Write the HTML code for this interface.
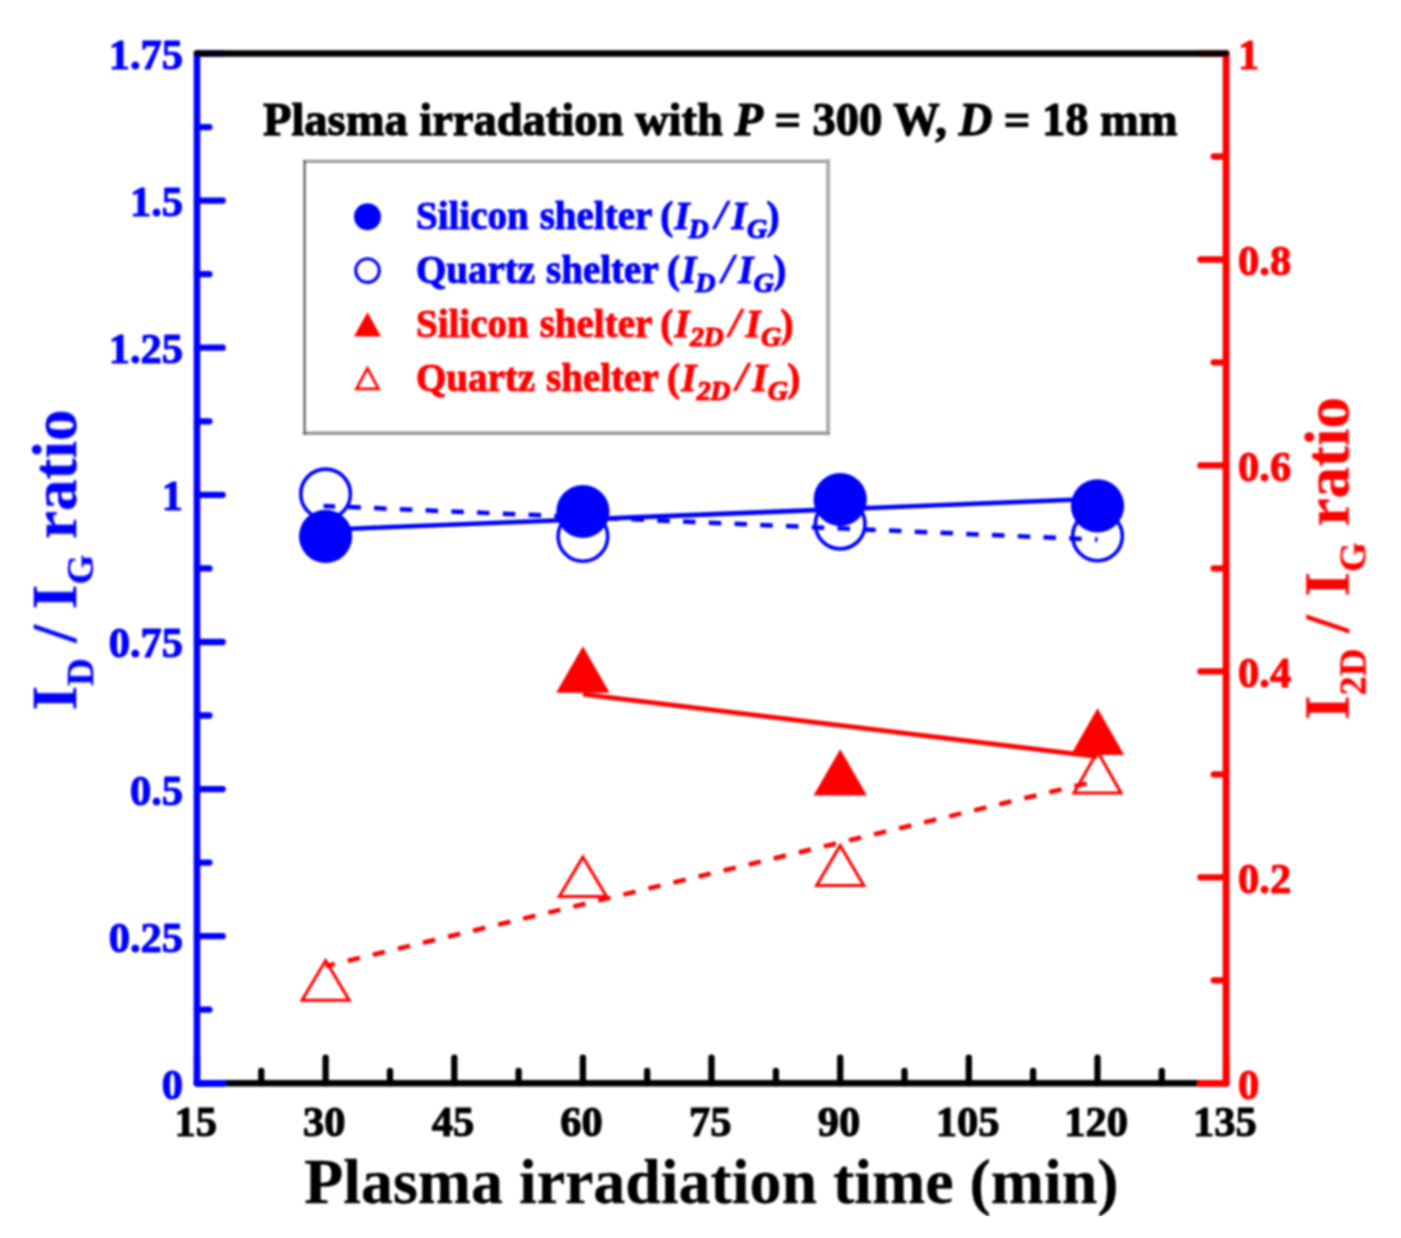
<!DOCTYPE html>
<html><head><meta charset="utf-8"><title>chart</title>
<style>
html,body{margin:0;padding:0;background:#fff;}
body{width:1401px;height:1238px;overflow:hidden;}
svg{display:block;}
text{font-family:"Liberation Serif",serif;font-weight:bold;stroke-width:1.1px;stroke-linejoin:round;}
.lg text{stroke-width:1.0px;}
.ttl{stroke-width:1.25px;}
.b text,text.b{stroke:#0000ff;}
.r text,text.r{stroke:#ff0000;}
.k text,text.k{stroke:#000;}
.i{font-style:italic;}
svg text.big{stroke-width:0.3px;}
</style></head><body>
<svg width="1401" height="1238" viewBox="0 0 1401 1238">
<rect x="0" y="0" width="1401" height="1238" fill="#fff"/>
<g id="plot" filter="url(#bl)">
<line x1="197.0" y1="1083.3" x2="1226.1" y2="1083.3" stroke="#000000" stroke-width="6.6" stroke-linecap="round"/>
<line x1="197.0" y1="1083.3" x2="197.0" y2="1057.6" stroke="#000000" stroke-width="6.3" stroke-linecap="round"/>
<line x1="261.3" y1="1083.3" x2="261.3" y2="1070.9" stroke="#000000" stroke-width="6.3" stroke-linecap="round"/>
<line x1="325.6" y1="1083.3" x2="325.6" y2="1057.6" stroke="#000000" stroke-width="6.3" stroke-linecap="round"/>
<line x1="390.0" y1="1083.3" x2="390.0" y2="1070.9" stroke="#000000" stroke-width="6.3" stroke-linecap="round"/>
<line x1="454.3" y1="1083.3" x2="454.3" y2="1057.6" stroke="#000000" stroke-width="6.3" stroke-linecap="round"/>
<line x1="518.6" y1="1083.3" x2="518.6" y2="1070.9" stroke="#000000" stroke-width="6.3" stroke-linecap="round"/>
<line x1="582.9" y1="1083.3" x2="582.9" y2="1057.6" stroke="#000000" stroke-width="6.3" stroke-linecap="round"/>
<line x1="647.2" y1="1083.3" x2="647.2" y2="1070.9" stroke="#000000" stroke-width="6.3" stroke-linecap="round"/>
<line x1="711.5" y1="1083.3" x2="711.5" y2="1057.6" stroke="#000000" stroke-width="6.3" stroke-linecap="round"/>
<line x1="775.9" y1="1083.3" x2="775.9" y2="1070.9" stroke="#000000" stroke-width="6.3" stroke-linecap="round"/>
<line x1="840.2" y1="1083.3" x2="840.2" y2="1057.6" stroke="#000000" stroke-width="6.3" stroke-linecap="round"/>
<line x1="904.5" y1="1083.3" x2="904.5" y2="1070.9" stroke="#000000" stroke-width="6.3" stroke-linecap="round"/>
<line x1="968.8" y1="1083.3" x2="968.8" y2="1057.6" stroke="#000000" stroke-width="6.3" stroke-linecap="round"/>
<line x1="1033.1" y1="1083.3" x2="1033.1" y2="1070.9" stroke="#000000" stroke-width="6.3" stroke-linecap="round"/>
<line x1="1097.5" y1="1083.3" x2="1097.5" y2="1057.6" stroke="#000000" stroke-width="6.3" stroke-linecap="round"/>
<line x1="1161.8" y1="1083.3" x2="1161.8" y2="1070.9" stroke="#000000" stroke-width="6.3" stroke-linecap="round"/>
<line x1="1226.1" y1="1083.3" x2="1226.1" y2="1057.6" stroke="#000000" stroke-width="6.3" stroke-linecap="round"/>
<line x1="197.0" y1="53.5" x2="197.0" y2="1083.3" stroke="#0000ff" stroke-width="6.6" stroke-linecap="round"/>
<line x1="197.0" y1="1083.3" x2="222.7" y2="1083.3" stroke="#0000ff" stroke-width="6.8" stroke-linecap="round"/>
<line x1="197.0" y1="1009.7" x2="209.4" y2="1009.7" stroke="#0000ff" stroke-width="6.3" stroke-linecap="round"/>
<line x1="197.0" y1="936.2" x2="222.7" y2="936.2" stroke="#0000ff" stroke-width="6.3" stroke-linecap="round"/>
<line x1="197.0" y1="862.6" x2="209.4" y2="862.6" stroke="#0000ff" stroke-width="6.3" stroke-linecap="round"/>
<line x1="197.0" y1="789.1" x2="222.7" y2="789.1" stroke="#0000ff" stroke-width="6.3" stroke-linecap="round"/>
<line x1="197.0" y1="715.5" x2="209.4" y2="715.5" stroke="#0000ff" stroke-width="6.3" stroke-linecap="round"/>
<line x1="197.0" y1="642.0" x2="222.7" y2="642.0" stroke="#0000ff" stroke-width="6.3" stroke-linecap="round"/>
<line x1="197.0" y1="568.4" x2="209.4" y2="568.4" stroke="#0000ff" stroke-width="6.3" stroke-linecap="round"/>
<line x1="197.0" y1="494.8" x2="222.7" y2="494.8" stroke="#0000ff" stroke-width="6.3" stroke-linecap="round"/>
<line x1="197.0" y1="421.3" x2="209.4" y2="421.3" stroke="#0000ff" stroke-width="6.3" stroke-linecap="round"/>
<line x1="197.0" y1="347.7" x2="222.7" y2="347.7" stroke="#0000ff" stroke-width="6.3" stroke-linecap="round"/>
<line x1="197.0" y1="274.2" x2="209.4" y2="274.2" stroke="#0000ff" stroke-width="6.3" stroke-linecap="round"/>
<line x1="197.0" y1="200.6" x2="222.7" y2="200.6" stroke="#0000ff" stroke-width="6.3" stroke-linecap="round"/>
<line x1="197.0" y1="127.1" x2="209.4" y2="127.1" stroke="#0000ff" stroke-width="6.3" stroke-linecap="round"/>
<line x1="197.0" y1="53.5" x2="222.7" y2="53.5" stroke="#0000ff" stroke-width="6.3" stroke-linecap="round"/>
<line x1="1226.1" y1="53.5" x2="1226.1" y2="1083.3" stroke="#ff0000" stroke-width="6.9" stroke-linecap="round"/>
<line x1="1226.1" y1="1083.3" x2="1200.4" y2="1083.3" stroke="#ff0000" stroke-width="6.8" stroke-linecap="round"/>
<line x1="1226.1" y1="980.3" x2="1213.7" y2="980.3" stroke="#ff0000" stroke-width="6.3" stroke-linecap="round"/>
<line x1="1226.1" y1="877.3" x2="1200.4" y2="877.3" stroke="#ff0000" stroke-width="6.3" stroke-linecap="round"/>
<line x1="1226.1" y1="774.4" x2="1213.7" y2="774.4" stroke="#ff0000" stroke-width="6.3" stroke-linecap="round"/>
<line x1="1226.1" y1="671.4" x2="1200.4" y2="671.4" stroke="#ff0000" stroke-width="6.3" stroke-linecap="round"/>
<line x1="1226.1" y1="568.4" x2="1213.7" y2="568.4" stroke="#ff0000" stroke-width="6.3" stroke-linecap="round"/>
<line x1="1226.1" y1="465.4" x2="1200.4" y2="465.4" stroke="#ff0000" stroke-width="6.3" stroke-linecap="round"/>
<line x1="1226.1" y1="362.4" x2="1213.7" y2="362.4" stroke="#ff0000" stroke-width="6.3" stroke-linecap="round"/>
<line x1="1226.1" y1="259.5" x2="1200.4" y2="259.5" stroke="#ff0000" stroke-width="6.3" stroke-linecap="round"/>
<line x1="1226.1" y1="156.5" x2="1213.7" y2="156.5" stroke="#ff0000" stroke-width="6.3" stroke-linecap="round"/>
<line x1="1226.1" y1="53.5" x2="1200.4" y2="53.5" stroke="#ff0000" stroke-width="6.3" stroke-linecap="round"/>
<line x1="197.0" y1="53.5" x2="1226.1" y2="53.5" stroke="#000000" stroke-width="6.6" stroke-linecap="round"/>
<text class="b" x="183" y="68.9" font-size="42.5" fill="#0000ff" text-anchor="end">1.75</text>
<text class="b" x="183" y="216.0" font-size="42.5" fill="#0000ff" text-anchor="end">1.5</text>
<text class="b" x="183" y="363.1" font-size="42.5" fill="#0000ff" text-anchor="end">1.25</text>
<text class="b" x="183" y="510.2" font-size="42.5" fill="#0000ff" text-anchor="end">1</text>
<text class="b" x="183" y="657.4" font-size="42.5" fill="#0000ff" text-anchor="end">0.75</text>
<text class="b" x="183" y="804.5" font-size="42.5" fill="#0000ff" text-anchor="end">0.5</text>
<text class="b" x="183" y="951.6" font-size="42.5" fill="#0000ff" text-anchor="end">0.25</text>
<text class="b" x="183" y="1098.7" font-size="42.5" fill="#0000ff" text-anchor="end">0</text>
<text class="r" x="1238" y="68.9" font-size="42.5" fill="#ff0000">1</text>
<text class="r" x="1238" y="274.9" font-size="42.5" fill="#ff0000">0.8</text>
<text class="r" x="1238" y="480.8" font-size="42.5" fill="#ff0000">0.6</text>
<text class="r" x="1238" y="686.8" font-size="42.5" fill="#ff0000">0.4</text>
<text class="r" x="1238" y="892.7" font-size="42.5" fill="#ff0000">0.2</text>
<text class="r" x="1238" y="1098.7" font-size="42.5" fill="#ff0000">0</text>
<text class="k" x="195.7" y="1135.5" font-size="42.5" fill="#000000" text-anchor="middle">15</text>
<text class="k" x="324.3" y="1135.5" font-size="42.5" fill="#000000" text-anchor="middle">30</text>
<text class="k" x="453.0" y="1135.5" font-size="42.5" fill="#000000" text-anchor="middle">45</text>
<text class="k" x="581.6" y="1135.5" font-size="42.5" fill="#000000" text-anchor="middle">60</text>
<text class="k" x="710.2" y="1135.5" font-size="42.5" fill="#000000" text-anchor="middle">75</text>
<text class="k" x="838.9" y="1135.5" font-size="42.5" fill="#000000" text-anchor="middle">90</text>
<text class="k" x="967.5" y="1135.5" font-size="42.5" fill="#000000" text-anchor="middle">105</text>
<text class="k" x="1096.2" y="1135.5" font-size="42.5" fill="#000000" text-anchor="middle">120</text>
<text class="k" x="1224.8" y="1135.5" font-size="42.5" fill="#000000" text-anchor="middle">135</text>
<text class="k big" x="711.4" y="1203" font-size="63.9" fill="#000" text-anchor="middle">Plasma irradiation time (min)</text>
<text class="k ttl" x="263" y="134.7" font-size="46.5" fill="#000">Plasma irradation with <tspan class="i">P</tspan> = 300 W, <tspan class="i">D</tspan> = 18 mm</text>
<text class="b big" transform="translate(76,710.5) rotate(-90)" font-size="63" fill="#0000ff">I<tspan font-size="38.5" dy="16.5">D</tspan><tspan dy="-16.5"> / I</tspan><tspan font-size="38.5" dy="16.5">G</tspan><tspan dy="-16.5"> ratio</tspan></text>
<text class="r big" transform="translate(1348.5,720) rotate(-90)" font-size="63" fill="#ff0000">I<tspan font-size="38.5" dy="16.5">2D</tspan><tspan dy="-16.5"> /</tspan><tspan dx="2.8"> I</tspan><tspan font-size="38.5" dy="16.5">G</tspan><tspan dy="-16.5"> ratio</tspan></text>
<g fill="none" stroke-linecap="square"><line x1="304.6" y1="161.3" x2="828.1" y2="161.3" stroke="#9e9e9e" stroke-width="3.2"/><line x1="828.1" y1="161.3" x2="828.1" y2="433.3" stroke="#acacac" stroke-width="4.0"/><line x1="304.6" y1="433.3" x2="828.1" y2="433.3" stroke="#999999" stroke-width="3.6"/><line x1="304.6" y1="161.3" x2="304.6" y2="433.3" stroke="#5a5a5a" stroke-width="2.2"/></g>
<g class="b lg" fill="#0000ff"><text x="416" y="228.5" font-size="39" word-spacing="1.2">Silicon shelter</text><text x="660.3" y="228.5" font-size="39.0">(</text><text x="674.5" y="228.5" font-size="39.0" class="i">I</text><text x="688.5" y="237.5" font-size="28.0" class="i" style="stroke-width:1.2px">D</text><text x="715.0" y="228.5" font-size="43.0" class="i" style="stroke-width:0.6px">/</text><text x="731.5" y="228.5" font-size="39.0" class="i">I</text><text x="747.0" y="237.5" font-size="28.0" class="i" style="stroke-width:1.2px">G</text><text x="766.5" y="228.5" font-size="39.0">)</text></g>
<g class="b lg" fill="#0000ff"><text x="416" y="282.5" font-size="39" word-spacing="1.2">Quartz shelter</text><text x="667.0" y="282.5" font-size="39.0">(</text><text x="681.2" y="282.5" font-size="39.0" class="i">I</text><text x="695.2" y="291.5" font-size="28.0" class="i" style="stroke-width:1.2px">D</text><text x="721.7" y="282.5" font-size="43.0" class="i" style="stroke-width:0.6px">/</text><text x="738.2" y="282.5" font-size="39.0" class="i">I</text><text x="753.7" y="291.5" font-size="28.0" class="i" style="stroke-width:1.2px">G</text><text x="773.2" y="282.5" font-size="39.0">)</text></g>
<g class="r lg" fill="#ff0000"><text x="416" y="336.5" font-size="39" word-spacing="1.2">Silicon shelter</text><text x="660.3" y="336.5" font-size="39.0">(</text><text x="674.5" y="336.5" font-size="39.0" class="i">I</text><text x="690.0" y="345.5" font-size="28.0" class="i" style="stroke-width:1.2px">2</text><text x="703.5" y="345.5" font-size="28.0" class="i" style="stroke-width:1.2px">D</text><text x="729.0" y="336.5" font-size="43.0" class="i" style="stroke-width:0.6px">/</text><text x="745.5" y="336.5" font-size="39.0" class="i">I</text><text x="761.0" y="345.5" font-size="28.0" class="i" style="stroke-width:1.2px">G</text><text x="780.5" y="336.5" font-size="39.0">)</text></g>
<g class="r lg" fill="#ff0000"><text x="416" y="390.5" font-size="39" word-spacing="1.2">Quartz shelter</text><text x="667.0" y="390.5" font-size="39.0">(</text><text x="681.2" y="390.5" font-size="39.0" class="i">I</text><text x="696.7" y="399.5" font-size="28.0" class="i" style="stroke-width:1.2px">2</text><text x="710.2" y="399.5" font-size="28.0" class="i" style="stroke-width:1.2px">D</text><text x="735.7" y="390.5" font-size="43.0" class="i" style="stroke-width:0.6px">/</text><text x="752.2" y="390.5" font-size="39.0" class="i">I</text><text x="767.7" y="399.5" font-size="28.0" class="i" style="stroke-width:1.2px">G</text><text x="787.2" y="390.5" font-size="39.0">)</text></g>
<circle cx="367.5" cy="216.7" r="13.5" fill="#0000ff"/>
<circle cx="367.5" cy="270.6" r="11.8" fill="none" stroke="#0000ff" stroke-width="3.1"/>
<polygon points="367.5,312.3 381,336.4 354,336.4" fill="#ff0000"/>
<polygon points="367.5,368.3 378.5,388.8 356.5,388.8" fill="none" stroke="#ff0000" stroke-width="2.7"/>
<circle cx="325.6" cy="493.9" r="24.8" fill="none" stroke="#0000ff" stroke-width="3.6"/>
<circle cx="582.9" cy="536.5" r="24.8" fill="none" stroke="#0000ff" stroke-width="3.6"/>
<circle cx="840.2" cy="524.1" r="24.8" fill="none" stroke="#0000ff" stroke-width="3.6"/>
<circle cx="1097.5" cy="536.0" r="24.8" fill="none" stroke="#0000ff" stroke-width="3.6"/>
<line x1="323.6" y1="505.9" x2="1097.5" y2="539.6" stroke="#0000ff" stroke-width="4.5" stroke-dasharray="12.5 13.27" stroke-dashoffset="1"/>
<circle cx="325.6" cy="536.4" r="26.6" fill="#0000ff"/>
<circle cx="582.9" cy="511.5" r="26.6" fill="#0000ff"/>
<circle cx="840.2" cy="499.5" r="26.6" fill="#0000ff"/>
<circle cx="1097.5" cy="505.9" r="26.6" fill="#0000ff"/>
<line x1="325.6" y1="529.7" x2="1097.5" y2="498.8" stroke="#0000ff" stroke-width="4.6"/>
<line x1="325.6" y1="966.1" x2="1097.5" y2="780.7" stroke="#ff0000" stroke-width="4.5" stroke-dasharray="12.5 13.27" stroke-dashoffset="3"/>
<polygon points="325.6,960.6 349.2,1000.2 302.0,1000.2" fill="none" stroke="#ff0000" stroke-width="3" stroke-linejoin="miter"/>
<polygon points="582.9,856.9 606.5,896.4 559.3,896.4" fill="none" stroke="#ff0000" stroke-width="3" stroke-linejoin="miter"/>
<polygon points="840.2,845.4 863.8,885.6 816.6,885.6" fill="none" stroke="#ff0000" stroke-width="3" stroke-linejoin="miter"/>
<polygon points="1097.5,751.5 1121.1,793.1 1073.9,793.1" fill="none" stroke="#ff0000" stroke-width="3" stroke-linejoin="miter"/>
<polygon points="582.9,646.3 609.6,692.7 556.2,692.7" fill="#ff0000"/>
<polygon points="840.2,749.3 866.9,795.5 813.5,795.5" fill="#ff0000"/>
<polygon points="1097.5,708.2 1124.2,754.9 1070.8,754.9" fill="#ff0000"/>
<line x1="582.9" y1="694.3" x2="1097.5" y2="756.6" stroke="#ff0000" stroke-width="4.6"/>
</g>
<rect x="0" y="1216.3" width="1401" height="30" fill="#fff"/>
<defs><filter id="bl" x="-2%" y="-2%" width="104%" height="104%"><feGaussianBlur stdDeviation="1.0"/></filter></defs>
</svg>
</body></html>
